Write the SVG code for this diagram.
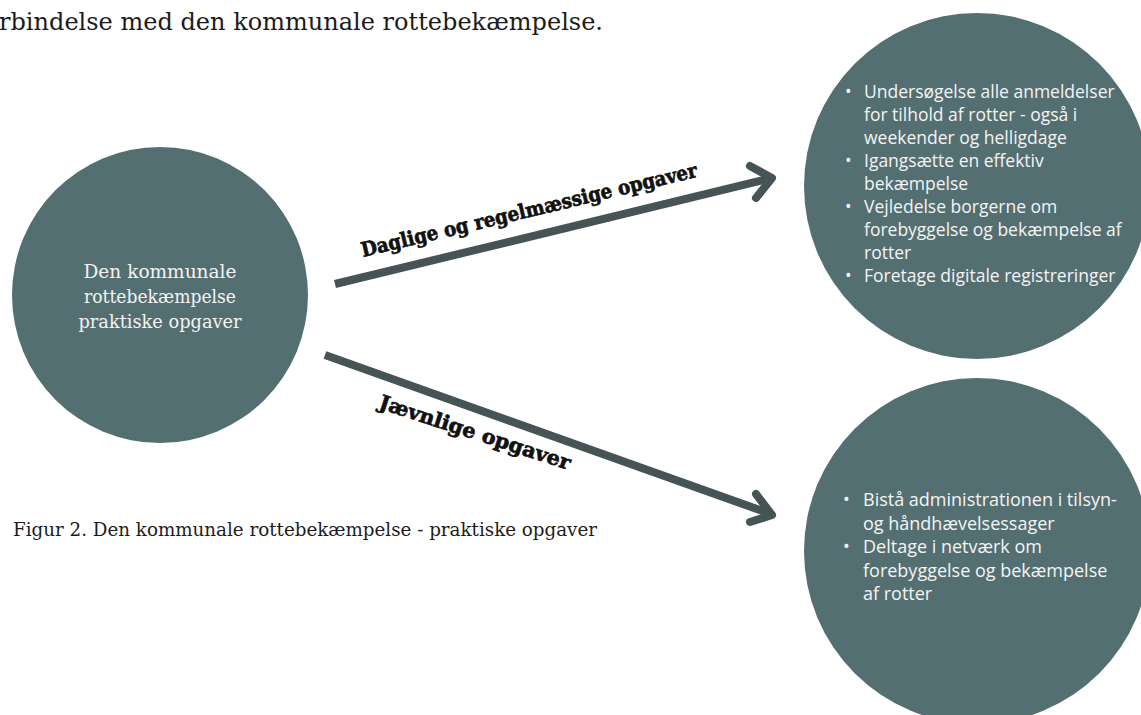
<svg xmlns="http://www.w3.org/2000/svg" width="1141" height="715" viewBox="0 0 1141 715">
<style>
.bg{fill:#ffffff}
.circ{fill:#546f72}
.serif{font-family:"DejaVu Serif","Liberation Serif",serif}
.ctext{fill:#f4f4f4;font-size:18px;text-anchor:middle}
.list{font-family:"Open Sans","Noto Sans",sans-serif;font-size:17.5px;fill:#f4f4f4}
.list2{font-family:"Open Sans","Noto Sans",sans-serif;font-size:18px;fill:#f4f4f4}
.dark{fill:#1c1c1c}
.lbl{font-family:"DejaVu Serif","Liberation Serif",serif;font-weight:bold;font-size:20px;fill:#111;stroke:#111;stroke-width:0.7}
.conn{fill:none;stroke:#465456;stroke-width:8}
.head{fill:none;stroke:#465456;stroke-width:8;stroke-linecap:round;stroke-linejoin:round}
</style>
<rect class="bg" x="0" y="0" width="1141" height="715"/>
<text class="serif dark" x="-1" y="30" font-size="24" textLength="604" lengthAdjust="spacingAndGlyphs">rbindelse med den kommunale rottebekæmpelse.</text>
<g id="node-center">
<circle class="circ" cx="160" cy="295" r="148"/>
<text class="serif ctext" x="160" y="278" textLength="153" lengthAdjust="spacingAndGlyphs">Den kommunale</text>
<text class="serif ctext" x="160" y="303" textLength="152" lengthAdjust="spacingAndGlyphs">rottebekæmpelse</text>
<text class="serif ctext" x="160" y="328" textLength="163" lengthAdjust="spacingAndGlyphs">praktiske opgaver</text>
</g>
<g id="node-daily">
<circle class="circ" cx="977" cy="186" r="173"/>
<text class="list" x="845" y="98">•</text><text class="list" x="864" y="98">Undersøgelse alle anmeldelser</text>
<text class="list" x="864" y="121">for tilhold af rotter - også i</text>
<text class="list" x="864" y="144">weekender og helligdage</text>
<text class="list" x="845" y="167">•</text><text class="list" x="864" y="167">Igangsætte en effektiv</text>
<text class="list" x="864" y="190">bekæmpelse</text>
<text class="list" x="845" y="213">•</text><text class="list" x="864" y="213">Vejledelse borgerne om</text>
<text class="list" x="864" y="236">forebyggelse og bekæmpelse af</text>
<text class="list" x="864" y="259">rotter</text>
<text class="list" x="845" y="282">•</text><text class="list" x="864" y="282">Foretage digitale registreringer</text>
</g>
<g id="node-periodic">
<circle class="circ" cx="977" cy="551" r="173"/>
<text class="list2" x="843" y="506">•</text><text class="list2" x="863" y="506">Bistå administrationen i tilsyn-</text>
<text class="list2" x="863" y="529.5">og håndhævelsessager</text>
<text class="list2" x="843" y="553">•</text><text class="list2" x="863" y="553">Deltage i netværk om</text>
<text class="list2" x="863" y="576.5">forebyggelse og bekæmpelse</text>
<text class="list2" x="863" y="600">af rotter</text>
</g>
<g id="connectors">
<path class="conn" d="M335 284 L768 179"/>
<path class="head" d="M750 166 L772 178 L756 198"/>
<path class="conn" d="M325 355 L768 513"/>
<path class="head" d="M756 494 L772 515 L750 522"/>
<text class="lbl" transform="translate(363,257) rotate(-13.5)" x="0" y="0" textLength="345" lengthAdjust="spacingAndGlyphs">Daglige og regelmæssige opgaver</text>
<text class="lbl" transform="translate(378,408) rotate(18)" x="0" y="0" textLength="200" lengthAdjust="spacingAndGlyphs">Jævnlige opgaver</text>
</g>
<text class="serif dark" x="13" y="536" font-size="18" textLength="584" lengthAdjust="spacingAndGlyphs">Figur 2. Den kommunale rottebekæmpelse - praktiske opgaver</text>
</svg>
